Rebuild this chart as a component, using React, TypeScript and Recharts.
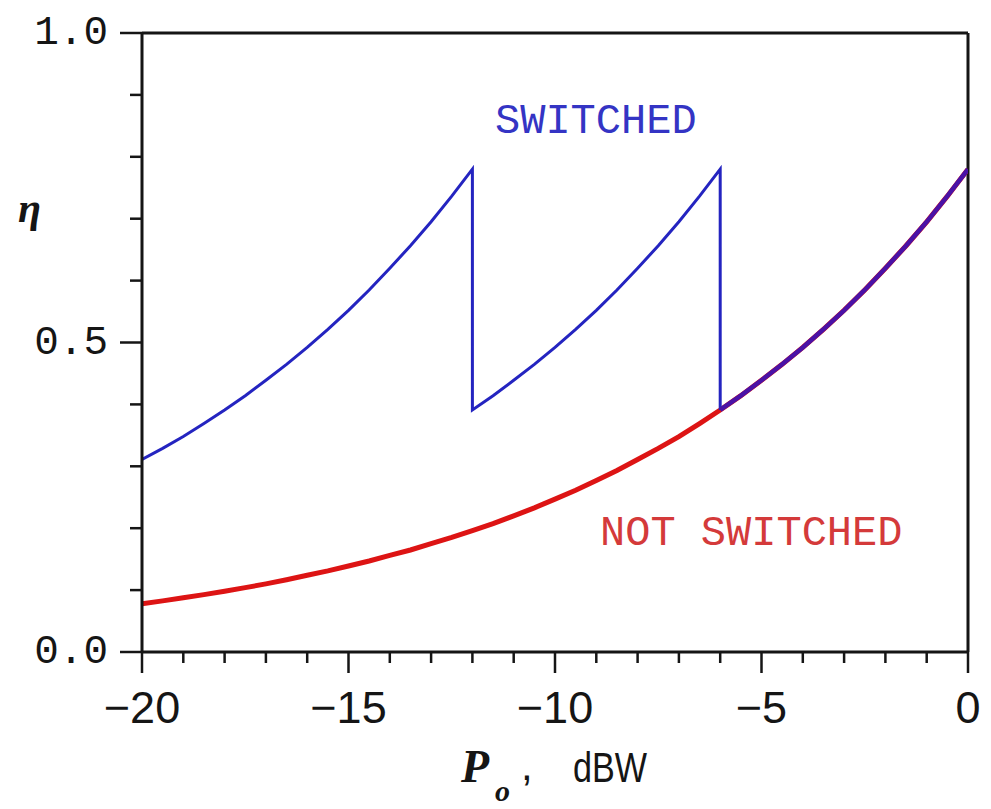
import { Line, LineChart, ReferenceLine, XAxis, YAxis } from "recharts";

// output power, dBW (half-dB steps)
const dbw = [
  -20, -19.5, -19, -18.5, -18, -17.5, -17, -16.5, -16, -15.5, -15, -14.5, -14,
  -13.5, -13, -12.5, -12, -11.5, -11, -10.5, -10, -9.5, -9, -8.5, -8, -7.5, -7,
  -6.5, -6, -5.5, -5, -4.5, -4, -3.5, -3, -2.5, -2, -1.5, -1, -0.5, 0,
];

// efficiency without switching (red curve)
const notSwitched = [
  0.078, 0.0826, 0.0875, 0.0927, 0.0982, 0.104, 0.11, 0.1167, 0.124, 0.131,
  0.139, 0.147, 0.156, 0.1648, 0.175, 0.185, 0.196, 0.2075, 0.22, 0.2329, 0.247,
  0.2613, 0.277, 0.2932, 0.311, 0.3289, 0.348, 0.3691, 0.391, 0.4141, 0.439,
  0.4647, 0.492, 0.5213, 0.552, 0.5849, 0.62, 0.6563, 0.695, 0.7364, 0.78,
];

// switched supply (blue sawtooth), points in drawing order
const switchedDbw = [
  -20, -19.5, -19, -18.5, -18, -17.5, -17, -16.5, -16, -15.5, -15, -14.5, -14,
  -13.5, -13, -12.5, -12, -12, -11.5, -11, -10.5, -10, -9.5, -9, -8.5, -8, -7.5,
  -7, -6.5, -6, -6,
];
const switchedEta = [
  0.311, 0.3289, 0.348, 0.3691, 0.391, 0.4141, 0.439, 0.4647, 0.492, 0.5213,
  0.552, 0.5849, 0.62, 0.6563, 0.695, 0.7364, 0.78, 0.391, 0.4141, 0.439, 0.4647,
  0.492, 0.5213, 0.552, 0.5849, 0.62, 0.6563, 0.695, 0.7364, 0.78, 0.391,
];

const xTicks = [
  -20, -19, -18, -17, -16, -15, -14, -13, -12, -11, -10, -9, -8, -7, -6, -5, -4,
  -3, -2, -1, 0,
];
const yTicks = [0, 0.1, 0.2, 0.3, 0.4, 0.5, 0.6, 0.7, 0.8, 0.9, 1.0];

const notSwitchedData = dbw.map((p, i) => ({ p, eta: notSwitched[i] }));
const switchedData = switchedDbw.map((p, i) => ({ p, eta: switchedEta[i] }));
// above -6 dBW both curves coincide (drawn purple)
const overlapData = notSwitchedData.filter((d) => d.p >= -6);

const ink = "#151515";

const XTick = ({ x, y, payload }: any) => {
  const v = payload.value;
  const major = v % 5 === 0;
  return (
    <g>
      <line x1={x} x2={x} y1={y} y2={y + (major ? 21 : 11)} stroke={ink} strokeWidth={2.5} />
      {major && (
        <text x={x} y={y + 71} textAnchor="middle" fontFamily="Liberation Sans" fontSize={45} fill={ink}>
          {v < 0 ? "\u2212" + Math.abs(v) : "0"}
        </text>
      )}
    </g>
  );
};

const YTick = ({ x, y, payload }: any) => {
  const v = payload.value;
  const major = Math.round(v * 10) % 5 === 0;
  return (
    <g>
      <line x1={x} x2={x - (major ? 22 : 12)} y1={y} y2={y} stroke={ink} strokeWidth={2.5} />
      {major && (
        <text x={x - 34} y={y + 11} textAnchor="end" fontFamily="Liberation Mono" fontSize={41} fill={ink}>
          {v.toFixed(1)}
        </text>
      )}
    </g>
  );
};

export default function App() {
  return (
    <div style={{ position: "absolute", left: 0, top: 0, width: 991, height: 809, background: "#fff" }}>
      <LineChart width={991} height={809} margin={{ top: 33, right: 23, bottom: 0, left: 0 }}>
        <XAxis
          dataKey="p"
          type="number"
          domain={[-20, 0]}
          ticks={xTicks}
          interval={0}
          height={157}
          tickSize={0}
          tickMargin={0}
          tickLine={false}
          tick={<XTick />}
          axisLine={{ stroke: ink, strokeWidth: 3 }}
          allowDataOverflow
        />
        <YAxis
          type="number"
          domain={[0, 1]}
          ticks={yTicks}
          interval={0}
          width={142}
          tickSize={0}
          tickMargin={0}
          tickLine={false}
          tick={<YTick />}
          axisLine={{ stroke: ink, strokeWidth: 3 }}
          allowDataOverflow
        />
        <ReferenceLine y={1} stroke={ink} strokeWidth={3} />
        <ReferenceLine x={0} stroke={ink} strokeWidth={3} />
        <Line
          data={notSwitchedData}
          dataKey="eta"
          type="linear"
          stroke="#dd1414"
          strokeWidth={5}
          dot={false}
          isAnimationActive={false}
        />
        <Line
          data={switchedData}
          dataKey="eta"
          type="linear"
          stroke="#2424c0"
          strokeWidth={3}
          dot={false}
          isAnimationActive={false}
        />
        <Line
          data={overlapData}
          dataKey="eta"
          type="linear"
          stroke="#4a12a6"
          strokeWidth={4.5}
          dot={false}
          isAnimationActive={false}
        />
      </LineChart>
      <svg
        width={991}
        height={809}
        style={{ position: "absolute", left: 0, top: 0, pointerEvents: "none" }}
      >
        <text x={495} y={133} fontFamily="Liberation Mono" fontSize={42} fill="#3434c4">
          SWITCHED
        </text>
        <text x={600} y={545} fontFamily="Liberation Mono" fontSize={42} fill="#d43a3a">
          NOT SWITCHED
        </text>
        <text x={18} y={222} fontFamily="Liberation Serif" fontStyle="italic" fontWeight="bold" fontSize={42} fill={ink}>
          η
        </text>
        <text x={461} y={782} fontFamily="Liberation Serif" fontStyle="italic" fontWeight="bold" fontSize={46} fill={ink}>
          P
        </text>
        <text x={495} y={801} fontFamily="Liberation Serif" fontStyle="italic" fontWeight="bold" fontSize={30} fill={ink}>
          o
        </text>
        <text x={521} y={780} fontFamily="Liberation Sans" fontSize={42} fill={ink}>
          ,
        </text>
        <text x={573} y={782} fontFamily="Liberation Sans" fontSize={42} textLength={74} lengthAdjust="spacingAndGlyphs" fill={ink}>
          dBW
        </text>
      </svg>
    </div>
  );
}
